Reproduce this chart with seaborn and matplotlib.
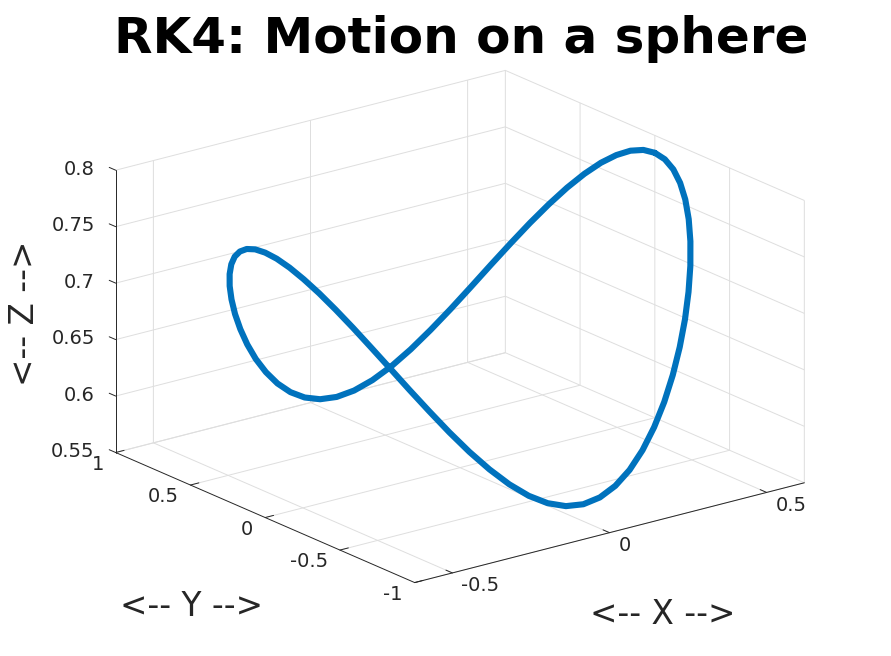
import matplotlib
matplotlib.use('Agg')
import matplotlib.pyplot as plt
import matplotlib.transforms as mtrans
import seaborn as sns

# points along the path
x_vals = [0.62, 0.6176, 0.6106, 0.5989, 0.5826, 0.5619, 0.5369, 0.5079, 0.4749, 0.4384,
          0.3985, 0.3556, 0.31, 0.262, 0.212, 0.1605, 0.1077, 0.054, 0.0,
          -0.054, -0.1077, -0.1605, -0.212, -0.262, -0.31, -0.3556, -0.3985, -0.4384,
          -0.4749, -0.5079, -0.5369, -0.5619, -0.5826, -0.5989, -0.6106, -0.6176, -0.62,
          -0.6176, -0.6106, -0.5989, -0.5826, -0.5619, -0.5369, -0.5079, -0.4749, -0.4384,
          -0.3985, -0.3556, -0.31, -0.262, -0.212, -0.1605, -0.1077, -0.054, 0.0,
          0.054, 0.1077, 0.1605, 0.212, 0.262, 0.31, 0.3556, 0.3985, 0.4384,
          0.4749, 0.5079, 0.5369, 0.5619, 0.5826, 0.5989, 0.6106, 0.6176, 0.62]
y_vals = [0.0, 0.0719, 0.1433, 0.2135, 0.2822, 0.3487, 0.4125, 0.4732, 0.5303, 0.5834,
          0.632, 0.6758, 0.7145, 0.7477, 0.7753, 0.7969, 0.8125, 0.8219, 0.825,
          0.8219, 0.8125, 0.7969, 0.7753, 0.7477, 0.7145, 0.6758, 0.632, 0.5834,
          0.5303, 0.4732, 0.4125, 0.3487, 0.2822, 0.2135, 0.1433, 0.0719, 0.0,
          -0.0719, -0.1433, -0.2135, -0.2822, -0.3487, -0.4125, -0.4732, -0.5303, -0.5834,
          -0.632, -0.6758, -0.7145, -0.7477, -0.7753, -0.7969, -0.8125, -0.8219, -0.825,
          -0.8219, -0.8125, -0.7969, -0.7753, -0.7477, -0.7145, -0.6758, -0.632, -0.5834,
          -0.5303, -0.4732, -0.4125, -0.3487, -0.2822, -0.2135, -0.1433, -0.0719, 0.0]
z_vals = [0.7846, 0.7832, 0.7789, 0.7718, 0.7622, 0.7501, 0.7359, 0.7198, 0.7023, 0.6837,
          0.6647, 0.6456, 0.6272, 0.6102, 0.595, 0.5824, 0.573, 0.5671, 0.5651,
          0.5671, 0.573, 0.5824, 0.595, 0.6102, 0.6272, 0.6456, 0.6647, 0.6837,
          0.7023, 0.7198, 0.7359, 0.7501, 0.7622, 0.7718, 0.7789, 0.7832, 0.7846,
          0.7832, 0.7789, 0.7718, 0.7622, 0.7501, 0.7359, 0.7198, 0.7023, 0.6837,
          0.6647, 0.6456, 0.6272, 0.6102, 0.595, 0.5824, 0.573, 0.5671, 0.5651,
          0.5671, 0.573, 0.5824, 0.595, 0.6102, 0.6272, 0.6456, 0.6647, 0.6837,
          0.7023, 0.7198, 0.7359, 0.7501, 0.7622, 0.7718, 0.7789, 0.7832, 0.7846]

x_ticks = [-0.5, 0, 0.5]
y_ticks = [-1, -0.5, 0, 0.5, 1]
z_ticks = [0.55, 0.6, 0.65, 0.7, 0.75, 0.8]
x_labels = ['-0.5', '0', '0.5']
y_labels = ['-1', '-0.5', '0', '0.5', '1']
z_labels = ['0.55', '0.6', '0.65', '0.7', '0.75', '0.8']

sns.set_theme(style='white')
plt.rcParams['font.family'] = ['DejaVu Sans']
plt.rcParams['path.simplify'] = False

W, H = 891, 656
dark = '#262626'
grid = '#dedede'

fig = plt.figure(figsize=(W/100, H/100), dpi=100)
size = 700
ax = fig.add_axes([(460 - 0.5135*size)/W, (329.5 - 0.5135*size)/H, size/W, size/H],
                  projection='3d', proj_type='ortho')
ax.patch.set_alpha(0)

sns.lineplot(x=x_vals, y=y_vals, sort=False, estimator=None, color='#0072BD',
             linewidth=4.4, ax=ax)
ax.lines[0].set_data_3d(x_vals, y_vals, z_vals)
ax.lines[0].set_solid_joinstyle('round')

ax.view_init(elev=19.5, azim=-127.5)
ax.set_box_aspect((492, 492, 300), zoom=1.049)
ax.set_xlim(-0.62, 0.62, view_margin=0)
ax.set_ylim(-1, 1, view_margin=0)
ax.set_zlim(0.55, 0.8, view_margin=0)
ax.set_xlabel('')
ax.set_ylabel('')

ax.set_xticks(x_ticks, x_labels)
ax.set_yticks(y_ticks, y_labels)
ax.set_zticks(z_ticks, z_labels)
# z axis on the left, ticks pointing along y like the original
ax.zaxis.set_ticks_position('upper')
ax.zaxis._get_tickdir = lambda pos: 1

for axis in (ax.xaxis, ax.yaxis, ax.zaxis):
    axis.set_pane_color((1, 1, 1, 0))
    axis.pane.set_edgecolor(grid)
    axis.line.set_color(dark)
    axis.line.set_linewidth(0.7)
    axis._axinfo['grid'].update(color=grid, linewidth=0.7)
    axis._axinfo['tick']['inward_factor'] = 0
    axis._axinfo['tick']['outward_factor'] = 0.27
    axis._axinfo['tick']['linewidth'] = {True: 0.7, False: 0.5}
ax.grid(True)
ax.tick_params(labelsize=14, labelcolor=dark, color=dark, width=0.7, pad=0)


def shift_labels(axis, ha, dx, dy):
    for tick in axis.get_major_ticks():
        lab = tick.label1
        lab.set_ha(ha)
        lab.set_va('center')
        lab.set_transform(lab.get_transform() + mtrans.ScaledTranslation(dx/100, dy/100, fig.dpi_scale_trans))


shift_labels(ax.xaxis, 'left', 10, -19)
shift_labels(ax.yaxis, 'right', -8, -17)
shift_labels(ax.zaxis, 'right', 0, 0)

fig.text(461/W, 1 - 39/H, 'RK4: Motion on a sphere', ha='center', va='center',
         fontsize=36, fontweight='bold', color='black')
fig.text(663/W, 1 - 614/H, '<-- X -->', ha='center', va='center', fontsize=23.5, color=dark)
fig.text(191/W, 1 - 607/H, '<-- Y -->', ha='center', va='center', fontsize=23.5, color=dark)
fig.text(25/W, 1 - 313/H, '<-- Z -->', ha='center', va='center', rotation=90, fontsize=23.5, color=dark)

fig.savefig('out.png', dpi=100)
